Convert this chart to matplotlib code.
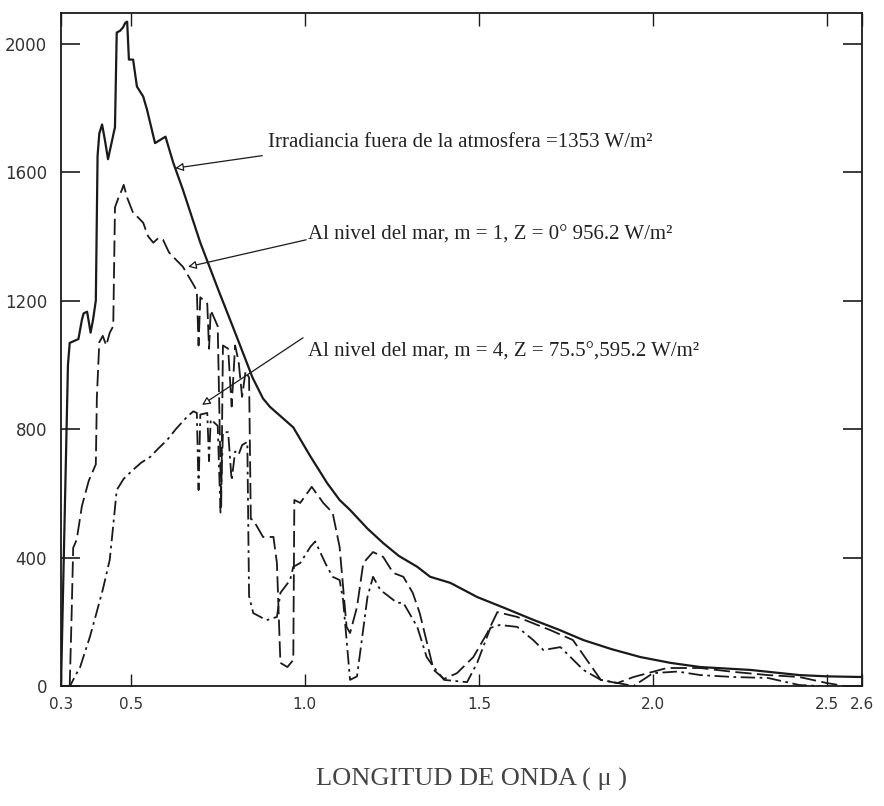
import matplotlib
matplotlib.use("Agg")
import matplotlib.pyplot as plt

# ---------------- data ----------------
wl_ext = [0.30, 0.31, 0.32, 0.325, 0.35, 0.36, 0.365, 0.375, 0.385, 0.392, 0.40, 0.405,
          0.41, 0.418, 0.426, 0.435, 0.447, 0.455, 0.46, 0.47, 0.478, 0.485, 0.49, 0.495,
          0.507, 0.518, 0.536, 0.547, 0.57, 0.585, 0.60, 0.622, 0.65, 0.70, 0.75, 0.80,
          0.85, 0.88, 0.90, 0.967, 1.016, 1.064, 1.10, 1.13, 1.18, 1.225, 1.27, 1.323,
          1.36, 1.418, 1.495, 1.58, 1.656, 1.73, 1.80, 1.88, 1.964, 2.05, 2.136, 2.28,
          2.42, 2.50, 2.60]
irr_ext = [0, 500, 1000, 1068, 1080, 1140, 1160, 1165, 1100, 1140, 1200, 1650,
           1720, 1748, 1700, 1640, 1700, 1740, 2034, 2040, 2050, 2065, 2068, 1950,
           1950, 1866, 1835, 1794, 1690, 1700, 1710, 1630, 1545, 1380, 1238, 1100,
           960, 895, 869, 805, 715, 632, 579, 548, 490, 445, 405, 371,
           340, 321, 277, 240, 206, 175, 143, 115, 90, 72, 59, 50,
           34, 30, 28]

wl_m1 = [0.325, 0.33, 0.335, 0.345, 0.36, 0.38, 0.40, 0.403, 0.41, 0.42, 0.43, 0.44,
         0.45, 0.455, 0.465, 0.475, 0.48, 0.49, 0.507, 0.52, 0.536, 0.55, 0.565, 0.58,
         0.593, 0.61, 0.622, 0.65, 0.68, 0.69, 0.695, 0.70, 0.72, 0.725, 0.73, 0.75,
         0.76, 0.765, 0.78, 0.79, 0.80, 0.81, 0.82, 0.83, 0.84, 0.845, 0.852, 0.88,
         0.91, 0.92, 0.93, 0.95, 0.967, 0.97, 0.987, 1.02, 1.053, 1.08, 1.10, 1.12,
         1.13, 1.15, 1.168, 1.196, 1.225, 1.254, 1.283, 1.31, 1.33, 1.37, 1.40, 1.437,
         1.484, 1.524, 1.553, 1.61, 1.705, 1.77, 1.81, 1.85, 1.897, 1.944, 2.04, 2.136,
         2.23, 2.33, 2.42, 2.50, 2.55]
irr_m1 = [0, 200, 430, 455, 560, 640, 690, 900, 1070, 1090, 1060, 1100,
          1120, 1490, 1520, 1545, 1560, 1520, 1473, 1460, 1442, 1400, 1380, 1395,
          1389, 1350, 1336, 1305, 1250, 1230, 1060, 1210, 1190, 1050, 1170, 1120,
          560, 1060, 1050, 870, 1060, 1010, 900, 980, 960, 520, 517, 464,
          464, 383, 72, 59, 81, 579, 570, 620, 570, 539, 433, 184,
          165, 246, 383, 417, 402, 352, 340, 290, 227, 50, 22, 40,
          90, 165, 230, 215, 174, 143, 81, 19, 9, 28, 56, 56,
          44, 34, 28, 9, 0]

wl_m4 = [0.31, 0.326, 0.34, 0.355, 0.37, 0.383, 0.40, 0.42, 0.44, 0.45, 0.46, 0.48,
         0.507, 0.53, 0.556, 0.58, 0.605, 0.63, 0.662, 0.68, 0.69, 0.695, 0.70, 0.72,
         0.725, 0.73, 0.75, 0.758, 0.765, 0.78, 0.79, 0.80, 0.81, 0.82, 0.835, 0.84,
         0.852, 0.89, 0.92, 0.93, 0.958, 0.967, 0.987, 1.016, 1.03, 1.06, 1.08, 1.10,
         1.11, 1.13, 1.15, 1.18, 1.196, 1.217, 1.265, 1.283, 1.323, 1.35, 1.37, 1.40,
         1.466, 1.495, 1.533, 1.56, 1.61, 1.656, 1.685, 1.734, 1.763, 1.80, 1.85, 1.90,
         1.944, 2.0, 2.07, 2.136, 2.23, 2.33, 2.42, 2.48]
irr_m4 = [0, 0, 30, 59, 110, 153, 220, 300, 393, 500, 610, 645,
          673, 695, 713, 740, 766, 800, 838, 855, 850, 610, 845, 850,
          700, 830, 810, 540, 790, 790, 640, 730, 720, 750, 760, 280,
          227, 205, 215, 290, 330, 371, 383, 433, 450, 380, 340, 330,
          268, 19, 30, 277, 340, 299, 259, 259, 184, 90, 59, 19,
          12, 72, 181, 190, 184, 143, 112, 121, 90, 50, 19, 9,
          0, 40, 45, 34, 28, 25, 3, 0]

y_ticks = [0, 400, 800, 1200, 1600, 2000]
x_ticks = [0.3, 0.5, 1.0, 1.5, 2.0, 2.5, 2.6]
x_tick_labels = ["0.3", "0.5", "1.0", "1.5", "2.0", "2.5", "2.6"]

label_ext = "Irradiancia fuera de la atmosfera =1353 W/m²"
label_m1 = "Al nivel del mar, m = 1, Z = 0° 956.2 W/m²"
label_m4 = "Al nivel del mar, m = 4, Z = 75.5°,595.2 W/m²"
x_label = "LONGITUD DE ONDA ( μ )"

# ---------------- figure ----------------
fig = plt.figure(figsize=(8.84, 8.06), dpi=100)
ax = fig.add_axes([61 / 884, 1 - 686 / 806, (862 - 61) / 884, (686 - 13) / 806])

ink = "#1a1a1a"
ax.plot(wl_ext, irr_ext, color=ink, lw=1.6, ls="-")
ax.plot(wl_m1, irr_m1, color=ink, lw=1.3, ls=(0, (9, 3)))
ax.plot(wl_m4, irr_m4, color=ink, lw=1.3, ls=(0, (8, 2.5, 1.5, 2.5)))

ax.set_xlim(0.3, 2.6)
ax.set_ylim(0, 2095)

for s in ax.spines.values():
    s.set_linewidth(1.3)
    s.set_color(ink)

ax.set_yticks(y_ticks)
ax.set_yticklabels([str(v) for v in y_ticks])
ax.set_xticks(x_ticks)
ax.set_xticklabels(x_tick_labels)
ax.tick_params(axis="y", direction="in", length=14, width=1.2, left=True, right=True,
               labelsize=12, labelcolor="#333333", pad=10, color=ink)
ax.tick_params(axis="x", direction="in", length=9, width=1.0, top=True, bottom=True,
               labelsize=11, labelcolor="#333333", pad=8, color=ink)
for lab in ax.get_xticklabels() + ax.get_yticklabels():
    lab.set_family("DejaVu Sans")

serif = ["Liberation Serif", "DejaVu Serif"]
arrow_kw = dict(arrowstyle="-|>", color=ink, lw=0.9, fc="white",
                mutation_scale=12, shrinkA=0, shrinkB=0)

ax.text(0.895, 1692, label_ext, family=serif, fontsize=15, color="#222222",
        ha="left", va="center")
ax.annotate("", xy=(0.628, 1612), xytext=(0.878, 1651), arrowprops=arrow_kw)

ax.text(1.01, 1405, label_m1, family=serif, fontsize=15, color="#222222",
        ha="left", va="center")
ax.annotate("", xy=(0.665, 1305), xytext=(1.004, 1389), arrowprops=arrow_kw)

ax.text(1.01, 1040, label_m4, family=serif, fontsize=15, color="#222222",
        ha="left", va="center")
ax.annotate("", xy=(0.705, 875), xytext=(0.995, 1084), arrowprops=arrow_kw)

fig.text(472 / 884, 1 - 779 / 806, x_label, family=serif, fontsize=19, color="#444444",
         ha="center", va="center")

fig.savefig("out.png", dpi=100, facecolor="white")
